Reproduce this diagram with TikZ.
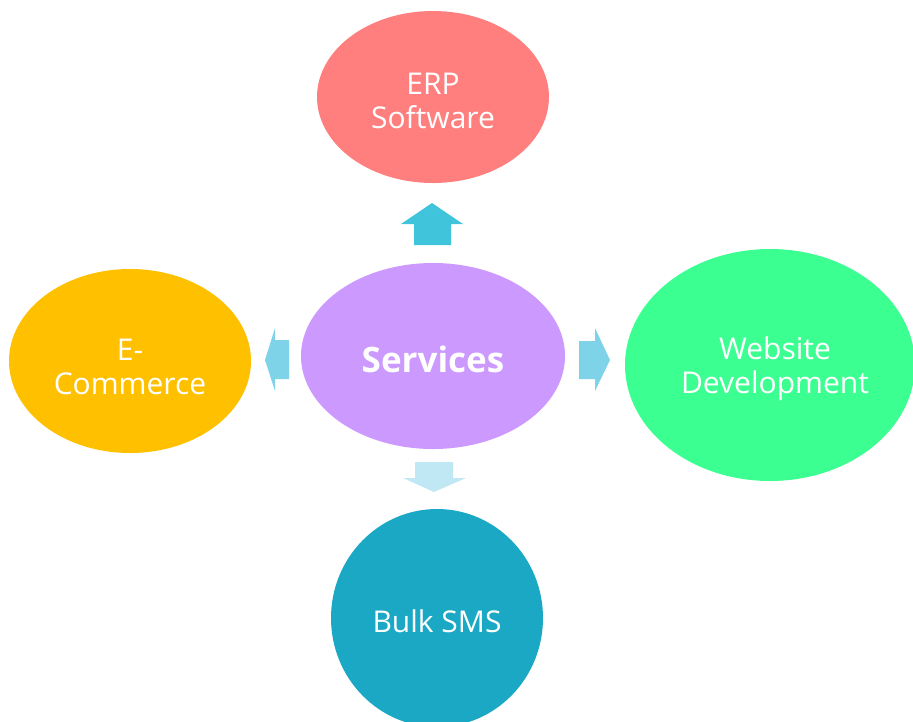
\documentclass[tikz,border=0pt]{standalone}
\usepackage{fontspec}
\setmainfont{Open Sans}
\usetikzlibrary{shapes.geometric}
\definecolor{erpc}{HTML}{FF7F7F}
\definecolor{servc}{HTML}{CC99FF}
\definecolor{ecomc}{HTML}{FFC000}
\definecolor{webc}{HTML}{3CFF92}
\definecolor{smsc}{HTML}{1BA8C4}
\definecolor{arrowup}{HTML}{40C4DC}
\definecolor{arrowside}{HTML}{7FD3E8}
\definecolor{arrowdown}{HTML}{C0E8F4}
\tikzset{
  blob/.style={ellipse, inner sep=0pt, text=white, align=center,
    font=\fontsize{30}{34}\selectfont},
  blockarrow/.style={draw=none}
}
\begin{document}
\begin{tikzpicture}[x=1pt,y=-1pt]
\useasboundingbox (0,0) rectangle (913,721);
\begin{scope}
\clip (0,0) rectangle (913,721);
\node[blob, fill=erpc, minimum width=232pt, minimum height=172pt] (erp) at (433,97) {};
\node[text=white, align=center, font=\fontsize{30}{34}\selectfont] (erpt) at (433,101) {ERP\\Software};
\node[blob, fill=servc, minimum width=264pt, minimum height=186pt] (serv) at (433,356) {};
\node[text=white, font=\bfseries\fontsize{35}{40}\selectfont] (servt) at (433,359) {Services};
\node[blob, fill=ecomc, minimum width=242pt, minimum height=184pt] (ecom) at (130,361) {};
\node[text=white, align=center, font=\fontsize{30}{34}\selectfont] (ecomt) at (130,367) {E-\\Commerce};
\node[blob, fill=webc, minimum width=290pt, minimum height=232pt] (web) at (770,365) {};
\node[text=white, align=center, font=\fontsize{30}{34}\selectfont] (webt) at (775,369) {Website\\Development};
\node[blob, fill=smsc, minimum width=212pt, minimum height=218pt] (sms) at (437,618) {};
\node[text=white, font=\fontsize{30}{34}\selectfont] (smst) at (437,621) {Bulk SMS};
\end{scope}
% block arrows
\fill[arrowup] (414,245) -- (414,224) -- (401,224) -- (432,203) -- (463,224) -- (451,224) -- (451,245) -- cycle;
\fill[arrowside] (289,340) -- (275,340) -- (275,328) -- (265,360) -- (275,391) -- (275,379) -- (289,379) -- cycle;
\fill[arrowside] (579,341) -- (595,341) -- (595,328) -- (610,360) -- (595,391) -- (595,379) -- (579,379) -- cycle;
\fill[arrowdown] (415,462) -- (453,462) -- (453,478) -- (466,478) -- (434,492) -- (403,478) -- (415,478) -- cycle;
\end{tikzpicture}
\end{document}
